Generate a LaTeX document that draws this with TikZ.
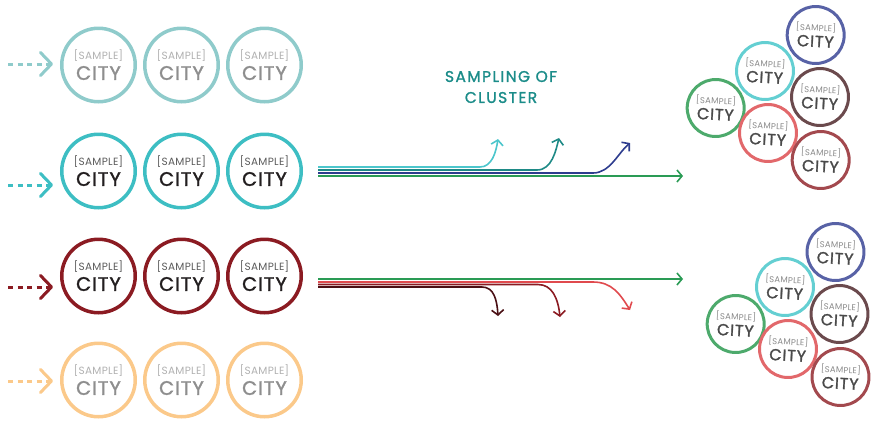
\documentclass[tikz,border=0pt]{standalone}
\usepackage{fontspec}
\setmainfont{Poppins}
\newfontfamily\popls[LetterSpace=5, FakeBold=1.6]{Poppins}
\newfontfamily\popsm[LetterSpace=3]{Poppins}
\newfontfamily\popt[LetterSpace=9, FakeBold=1.4]{Poppins}
\usetikzlibrary{arrows.meta}
\definecolor{rowA}{HTML}{8FCBCB}
\definecolor{rowB}{HTML}{3DBEC3}
\definecolor{rowC}{HTML}{8B1B22}
\definecolor{rowD}{HTML}{FBC98A}
\definecolor{txtLight}{HTML}{8E8E8E}
\definecolor{smpLight}{HTML}{B0B0B0}
\definecolor{txtDark}{HTML}{231F20}
\definecolor{smpDark}{HTML}{5A5A5A}
\definecolor{titleC}{HTML}{1B8C89}
\definecolor{lnTealL}{HTML}{4CC6CC}
\definecolor{lnTeal}{HTML}{1E8A86}
\definecolor{lnNavy}{HTML}{2D3C8E}
\definecolor{lnGreen}{HTML}{2A9B55}
\definecolor{lnRedL}{HTML}{E04A4E}
\definecolor{lnRed}{HTML}{8B1B22}
\definecolor{lnRedD}{HTML}{4A1015}
\definecolor{clB}{HTML}{5862A6}
\definecolor{clC}{HTML}{64CFD2}
\definecolor{clBr}{HTML}{6B4A4D}
\definecolor{clG}{HTML}{4DAA6C}
\definecolor{clLR}{HTML}{E2686B}
\definecolor{clDR}{HTML}{A3494E}
\definecolor{clTxt}{HTML}{4A4A4A}
\definecolor{clSmp}{HTML}{8A8A8A}
\newcommand\bigTxt[2]{{\popsm\fontsize{10.5}{10.5}\selectfont\color{#1}[SAMPLE]}\\[1pt]\textcolor{#2}{CITY}}
\newcommand\smTxt{{\popsm\fontsize{8.5}{8.5}\selectfont\color{clSmp}[SAMPLE]}\\[0pt]\textcolor{clTxt}{CITY}}
\tikzset{
  bigc/.style={circle, draw=#1, line width=3.5pt, minimum size=73.5pt, inner sep=0pt, align=center, font=\popls\fontsize{19.5}{19}\selectfont},
  smc/.style={circle, draw=#1, line width=3pt, minimum size=57pt, inner sep=0pt, align=center, font=\popls\fontsize{16}{16}\selectfont, rotate=-3},
  inarrow/.style={draw=#1, line width=3pt, dash pattern=on 5pt off 4.5pt, -{Straight Barb[length=11pt,width=23pt,line cap=round,line join=round]}},
  midarrow/.style={draw=#1, line width=1.6pt, -{Straight Barb[length=5pt,width=12pt]}},
}
\begin{document}
\begin{tikzpicture}[x=1pt,y=-1pt]
\useasboundingbox (0,0) rectangle (872,421);

% rows of cities
\foreach \r/\y/\c/\sm/\tx in {1/65/rowA/smpLight/txtLight, 2/171/rowB/smpDark/txtDark, 3/276/rowC/smpDark/txtDark, 4/380/rowD/smpLight/txtLight}{
  \node[bigc=\c] (r\r c1) at (98.5,\y) {\bigTxt{\sm}{\tx}};
  \node[bigc=\c] (r\r c2) at (181.5,\y) {\bigTxt{\sm}{\tx}};
  \node[bigc=\c] (r\r c3) at (264.5,\y) {\bigTxt{\sm}{\tx}};
}

% incoming dashed arrows
\coordinate (in1s) at (8,64);  \coordinate (in1e) at (53,64);
\coordinate (in2s) at (8,185); \coordinate (in2e) at (53,185);
\coordinate (in3s) at (8,287); \coordinate (in3e) at (53,287);
\coordinate (in4s) at (8,381); \coordinate (in4e) at (53,381);
\draw[inarrow=rowA] (in1s) -- (in1e);
\draw[inarrow=rowB] (in2s) -- (in2e);
\draw[inarrow=rowC] (in3s) -- (in3e);
\draw[inarrow=rowD] (in4s) -- (in4e);

% title
\node[font=\popt\fontsize{15.5}{21}\selectfont, text=titleC, align=center] (title) at (501,87) {SAMPLING OF\\CLUSTER};

% upper group of lines
\coordinate (ua) at (318,167); \coordinate (uae) at (498,139);
\coordinate (ub) at (318,170); \coordinate (ube) at (559,138);
\coordinate (uc) at (318,173); \coordinate (uce) at (630,143);
\coordinate (ud) at (318,176); \coordinate (ude) at (683,176);
\draw[midarrow=lnGreen] (ud) -- (ude);
\draw[midarrow=lnNavy] (uc) -- (593,173) .. controls (610,173) and (618,153) .. (uce);
\draw[midarrow=lnTeal] (ub) -- (537,170) .. controls (552,170) and (556,150) .. (ube);
\draw[midarrow=lnTealL] (ua) -- (480,167) .. controls (492,167) and (496,152) .. (uae);

% lower group of lines
\coordinate (la) at (318,279); \coordinate (lae) at (683,279);
\coordinate (lb) at (318,282); \coordinate (lbe) at (630,310);
\coordinate (lc) at (318,284.5); \coordinate (lce) at (560,317);
\coordinate (ld) at (318,287); \coordinate (lde) at (498,316);
\draw[midarrow=lnRedD] (ld) -- (482,287) .. controls (494,287) and (497,300) .. (lde);
\draw[midarrow=lnRed] (lc) -- (538,284.5) .. controls (552,284.5) and (558,298) .. (lce);
\draw[midarrow=lnRedL] (lb) -- (593,282) .. controls (612,282) and (620,294) .. (lbe);
\draw[midarrow=lnGreen] (la) -- (lae);

% upper cluster
\node[smc=clB]  (uB)  at (815.7,35)  {\smTxt};
\node[smc=clC]  (uC)  at (765,71)    {\smTxt};
\node[smc=clBr] (uBr) at (820,97)    {\smTxt};
\node[smc=clG]  (uG)  at (715.7,108) {\smTxt};
\node[smc=clLR] (uLR) at (768,133)   {\smTxt};
\node[smc=clDR] (uDR) at (820.7,160) {\smTxt};

% lower cluster
\node[smc=clB]  (lB)  at (835.5,252) {\smTxt};
\node[smc=clC]  (lC)  at (785,287)   {\smTxt};
\node[smc=clBr] (lBr) at (839.5,314) {\smTxt};
\node[smc=clG]  (lG)  at (735.7,324) {\smTxt};
\node[smc=clLR] (lLR) at (788,349)   {\smTxt};
\node[smc=clDR] (lDR) at (840.5,377) {\smTxt};
\end{tikzpicture}
\end{document}
